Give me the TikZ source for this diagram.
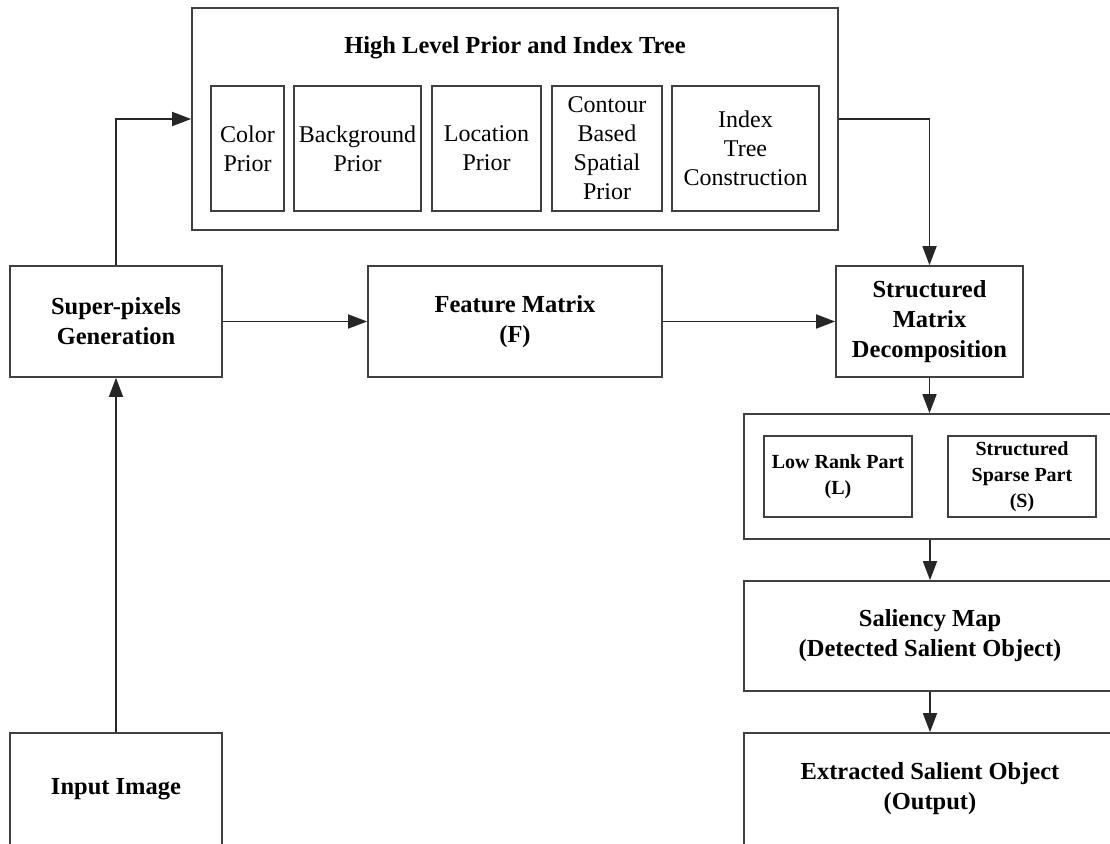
\documentclass[tikz,border=0pt]{standalone}
\usepackage{fontspec}
\setmainfont{Liberation Serif}
\usetikzlibrary{arrows.meta}
\begin{document}
\begin{tikzpicture}[x=1pt,y=-1pt,
  box/.style={draw=black!75, line width=1.7pt, rectangle, inner sep=0pt, align=center},
  bigtxt/.style={font=\fontsize{24.5}{30}\selectfont\bfseries},
  regtxt/.style={font=\fontsize{24}{29}\selectfont},
  smalltxt/.style={font=\fontsize{20}{26}\selectfont\bfseries},
  arr/.style={draw=black!85, line width=1.7pt, -{Triangle[length=19pt,width=14pt]}}]
\clip (0,0) rectangle (1110,843);
\fill[white] (0,0) rectangle (1110,843);
% top group
\node[box, minimum width=646pt, minimum height=222pt] (top) at (515,119) {};
\node[bigtxt, anchor=base] (title) at (515,53) {High Level Prior and Index Tree};
\node[box, regtxt, minimum width=73pt, minimum height=125pt] (color) at (247.5,148.5) {Color\\Prior};
\node[box, regtxt, minimum width=127pt, minimum height=125pt] (bg) at (357.5,148.5) {Background\\Prior};
\node[box, regtxt, minimum width=109pt, minimum height=125pt] (loc) at (486.5,148.5) {Location\\Prior};
\node[box, regtxt, minimum width=110pt, minimum height=125pt] (cont) at (607,148.5) {Contour\\Based\\Spatial\\Prior};
\node[box, regtxt, minimum width=147pt, minimum height=125pt] (idx) at (745.5,148.5) {Index\\Tree\\Construction};
% middle row
\node[box, bigtxt, minimum width=212pt, minimum height=111pt] (super) at (116,321.5) {Super-pixels\\Generation};
\node[box, bigtxt, minimum width=294pt, minimum height=111pt] (feat) at (515,321.5) {Feature Matrix\\(F)};
\node[box, bigtxt, minimum width=187pt, minimum height=111pt] (struct) at (929.5,321.5) {Structured\\Matrix\\Decomposition};
% decomposition parts
\node[box, minimum width=372pt, minimum height=125pt] (parts) at (930,476.5) {};
\node[box, smalltxt, minimum width=148pt, minimum height=81pt] (low) at (838,476.5) {Low Rank Part\\(L)};
\node[box, smalltxt, minimum width=148pt, minimum height=81pt] (sparse) at (1022,476.5) {Structured\\Sparse Part\\(S)};
% outputs
\node[box, bigtxt, minimum width=372pt, minimum height=110pt] (sal) at (930,636) {Saliency Map\\(Detected Salient Object)};
\node[box, bigtxt, minimum width=372pt, minimum height=112pt] (ext) at (930,789) {Extracted Salient Object\\(Output)};
\node[box, bigtxt, minimum width=212pt, minimum height=112pt] (input) at (116,789) {Input Image};
% connectors
\draw[arr] (super.north) |- (top.west);
\draw[arr] (top.east) -| (struct.north);
\draw[arr] (super.east) -- (feat.west);
\draw[arr] (feat.east) -- (struct.west);
\draw[arr] (input.north) -- (super.south);
\draw[arr] (struct.south) -- (struct.south |- parts.north);
\draw[arr] (parts.south) -- (sal.north);
\draw[arr] (sal.south) -- (ext.north);
\end{tikzpicture}
\end{document}
